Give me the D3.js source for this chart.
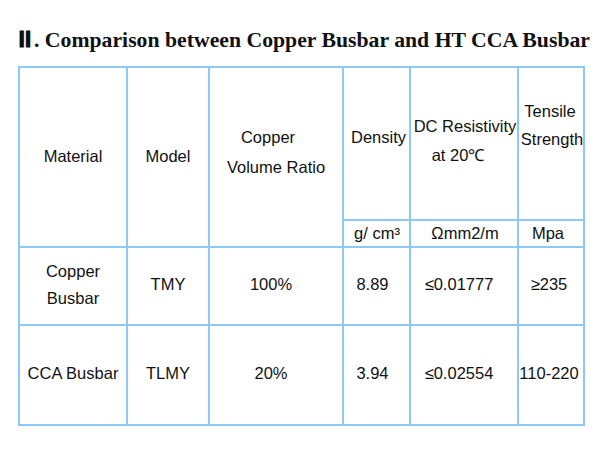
<!DOCTYPE html>
<html><head><meta charset="utf-8">
<script src="https://cdn.jsdelivr.net/npm/d3@7"></script>
<style>body{margin:0;background:#fff}svg{display:block}</style>
</head><body><svg id="c" width="600" height="454"></svg>
<script>
const titleNum = "Ⅱ";
const title = ". Comparison between Copper Busbar and HT CCA Busbar";
const columns = ["Material","Model","Copper Volume Ratio","Density","DC Resistivity","Tensile Strength"];
const headerLines = [["Material"],["Model"],["Copper","Volume Ratio"],["Density"],["DC Resistivity","at 20℃"],["Tensile","Strength"]];
const units = ["","","","g/ cm³","Ωmm2/m","Mpa"];
const materials = [["Copper","Busbar"],["CCA Busbar"]];
const models = ["TMY","TLMY"];
const copperRatio = ["100%","20%"];
const density = ["8.89","3.94"];
const resistivity = ["≤0.01777","≤0.02554"];
const tensile = ["≥235","110-220"];

const svg = d3.select("#c");
const colEdges = [19,127,209,343,410,518,584];
const rowEdges = [67,247,325,425];
const unitTop = 220;
const cx = i => (colEdges[i]+colEdges[i+1])/2;
const colDx = [0,0,-5,-4,-5,-2];
const stroke = "#8cc8f8";

const serif = "Liberation Serif, Times New Roman, serif";
svg.append("text").attr("x",17).attr("y",47).attr("font-family",serif)
  .attr("font-weight","bold").attr("font-size",22).attr("fill","#111")
  .attr("textLength",16).attr("lengthAdjust","spacingAndGlyphs").text(titleNum);
svg.append("text").attr("x",34).attr("y",47).attr("font-family",serif)
  .attr("font-weight","bold").attr("font-size",22).attr("fill","#111")
  .attr("textLength",556).attr("lengthAdjust","spacingAndGlyphs").text(title);

const g = svg.append("g").attr("stroke",stroke).attr("stroke-width",2).attr("fill","none");
rowEdges.forEach(y=>g.append("line").attr("x1",colEdges[0]-1).attr("x2",colEdges[6]+1).attr("y1",y).attr("y2",y));
colEdges.forEach(xx=>g.append("line").attr("x1",xx).attr("x2",xx).attr("y1",rowEdges[0]).attr("y2",rowEdges[3]));
g.append("line").attr("x1",colEdges[3]).attr("x2",colEdges[6]).attr("y1",unitTop).attr("y2",unitTop);

const font = "Liberation Sans, Arial, sans-serif";
function txt(xc, y, s){
  svg.append("text").attr("x",xc).attr("y",y).attr("text-anchor","middle")
    .attr("font-family",font).attr("font-size",16.5).attr("fill","#111").text(s);
}
const headerBase = [[162],[162],[143,173],[143],[132,161],[117,145]];
const headerDx = [[0],[0],[-8,0],[2],[1,-6],[-1,1]];
headerLines.forEach((lines,i)=>lines.forEach((s,j)=>txt(cx(i)+headerDx[i][j], headerBase[i][j], s)));
units.forEach((u,i)=>{ if(u) txt(cx(i)+[0,0,0,0.5,1,-3][i], 239, u); });

const rows = [0,1].map(r=>[materials[r],[models[r]],[copperRatio[r]],[density[r]],[resistivity[r]],[tensile[r]]]);
rows.forEach((row,r)=>{
  const mid = (rowEdges[r+1]+rowEdges[r+2])/2 - 2;
  row.forEach((lines,i)=>{
    const n = lines.length;
    lines.forEach((s,j)=>txt(cx(i)+colDx[i], mid + 6 + (j-(n-1)/2)*27, s));
  });
});
</script></body></html>
